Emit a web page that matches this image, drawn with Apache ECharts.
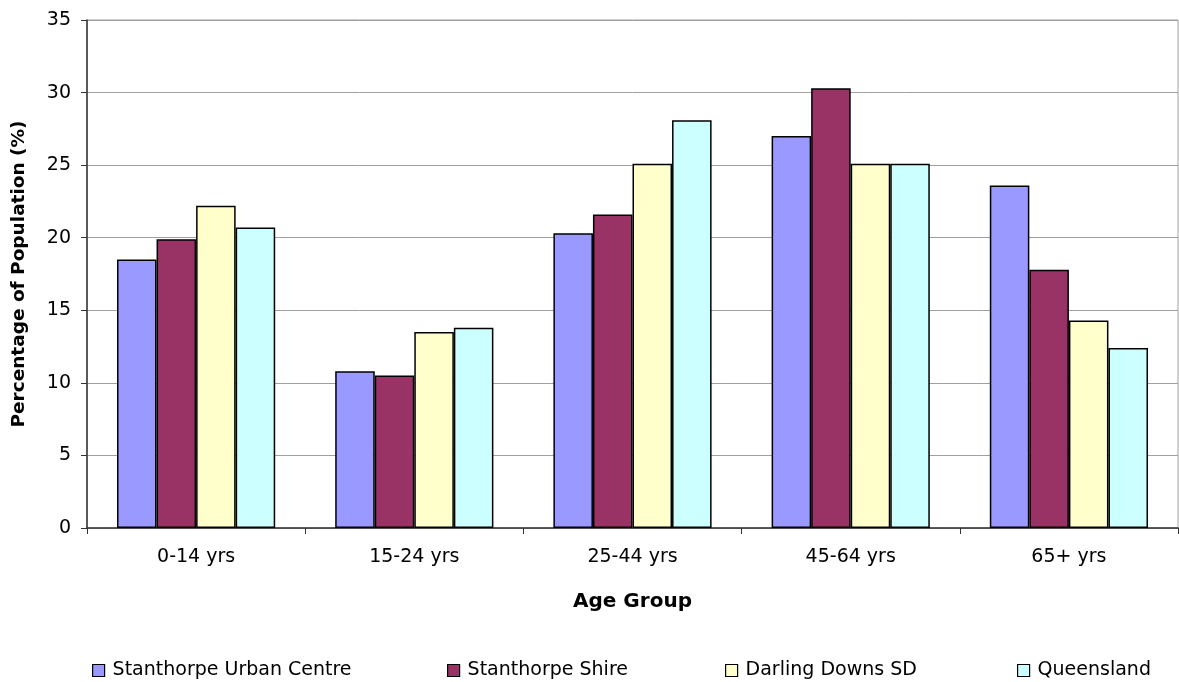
<!DOCTYPE html>
<html>
<head>
<meta charset="utf-8">
<script src="https://cdn.jsdelivr.net/npm/echarts@6/dist/echarts.min.js"></script>
<style>
  html, body { margin: 0; padding: 0; background: #fff; }
  #chart { width: 1179px; height: 682px; }
</style>
</head>
<body>
<div id="chart"></div>
<script>
// Age distribution by region (percent of population)
const categories = ['0-14 yrs', '15-24 yrs', '25-44 yrs', '45-64 yrs', '65+ yrs'];
const seriesNames = ['Stanthorpe Urban Centre', 'Stanthorpe Shire', 'Darling Downs SD', 'Queensland'];
const urbanCentre = [18.5, 10.8, 20.3, 27.0, 23.6];
const shire = [19.9, 10.5, 21.6, 30.3, 17.8];
const darlingDowns = [22.2, 13.5, 25.1, 25.1, 14.3];
const queensland = [20.7, 13.8, 28.1, 25.1, 12.4];
const colors = ['#9999FF', '#993366', '#FFFFCC', '#CCFFFF'];

const font = 'DejaVu Sans, Liberation Sans, Arial, sans-serif';
const values = [urbanCentre, shire, darlingDowns, queensland];

const chart = echarts.init(document.getElementById('chart'), null, { renderer: 'canvas' });

const series = seriesNames.map((name, i) => ({
  name: name,
  type: 'bar',
  data: values[i],
  barGap: '0%',
  barCategoryGap: '27.5%',
  itemStyle: { color: colors[i], borderColor: '#000', borderWidth: 1.5 },
  emphasis: { disabled: true }
}));

// one legend per item so each sits at its own horizontal position
const legendLefts = [92, 447, 725, 1017];
const legends = seriesNames.map((name, i) => ({
  data: [name],
  left: legendLefts[i],
  top: 661,
  padding: 0,
  icon: 'rect',
  itemWidth: 12,
  itemHeight: 12,
  itemGap: 0,
  textStyle: { fontFamily: font, fontSize: 19, color: '#000', padding: [0, 0, 0, 3] },
  itemStyle: { borderColor: '#000', borderWidth: 1.2 },
  selectedMode: false
}));

chart.setOption({
  animation: false,
  backgroundColor: '#fff',
  grid: {
    left: 87, right: 1, top: 20, bottom: 154,
    outerBoundsMode: 'none',
    show: true, borderColor: '#a0a0a0', borderWidth: 1
  },
  legend: legends,
  xAxis: {
    type: 'category',
    data: categories,
    name: 'Age Group',
    nameLocation: 'middle',
    nameGap: 64,
    nameTextStyle: { fontFamily: font, fontSize: 20, fontWeight: 'bold', color: '#000' },
    axisLine: { lineStyle: { color: '#333', width: 1.5 } },
    axisTick: { show: true, length: 6, lineStyle: { color: '#333' } },
    axisLabel: { fontFamily: font, fontSize: 19, color: '#000', margin: 20 }
  },
  yAxis: {
    type: 'value',
    min: 0,
    max: 35,
    interval: 5,
    name: 'Percentage of Population (%)',
    nameLocation: 'middle',
    nameGap: 58,
    nameTextStyle: { fontFamily: font, fontSize: 18.5, fontWeight: 'bold', color: '#000' },
    axisLine: { show: true, lineStyle: { color: '#333', width: 1.5 } },
    axisTick: { show: true, length: 6, lineStyle: { color: '#333' } },
    axisLabel: { fontFamily: font, fontSize: 19, color: '#000', margin: 16 },
    splitLine: { lineStyle: { color: '#a0a0a0', width: 1 } }
  },
  series: series
});
</script>
</body>
</html>
